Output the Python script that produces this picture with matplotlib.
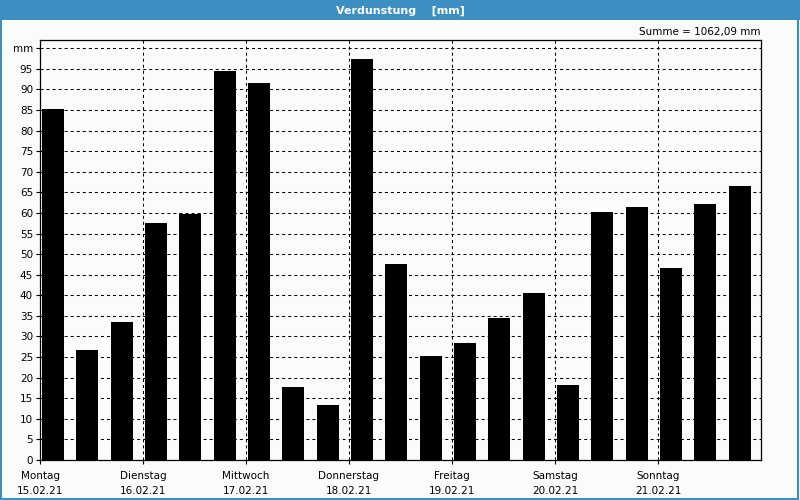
import matplotlib.pyplot as plt
from matplotlib.patches import Rectangle

# Daten (Verdunstung je 8-Stunden-Intervall, mm)
werte = [85.3, 26.6, 33.4,
         57.5, 59.8, 94.4,
         91.5, 17.8, 13.4,
         97.4, 47.6, 25.3,
         28.4, 34.5, 40.6,
         18.2, 60.2, 61.4,
         46.6, 62.1, 66.5]
tage = ["Montag", "Dienstag", "Mittwoch", "Donnerstag", "Freitag", "Samstag", "Sonntag"]
daten = ["15.02.21", "16.02.21", "17.02.21", "18.02.21", "19.02.21", "20.02.21", "21.02.21"]
summe_text = "Summe = 1062,09 mm"
titel = "Verdunstung    [mm]"

blau = "#3d8fc3"
hintergrund = "#fafcfa"

plt.rcParams["font.family"] = ["DejaVu Sans"]

fig = plt.figure(figsize=(8, 5), dpi=100, facecolor=hintergrund)
ax = fig.add_axes([0.05, 0.08, 0.90125, 0.84])
ax.set_facecolor(hintergrund)

# Balken
pos = [i + 0.06 for i in range(len(werte))]
ax.bar(pos, werte, width=0.64, align="edge", color="black", zorder=3)

ax.set_xlim(0, len(werte))
ax.set_ylim(0, 102)

# Achsen / Gitter
yt = list(range(0, 101, 5))
ax.set_yticks(yt)
ax.set_yticklabels([str(v) for v in yt[:-1]] + ["mm"])
xt = list(range(0, len(werte), 3))
ax.set_xticks(xt)
ax.set_xticklabels([t + "\n" + d for t, d in zip(tage, daten)], linespacing=1.6)

for v in yt[1:]:
    ax.axhline(v, color="black", lw=0.75, ls=(0, (2.9, 2.9)), zorder=1)
for x in xt[1:]:
    ax.axvline(x, color="black", lw=0.75, ls=(0, (2.9, 2.9)), zorder=1)

ax.tick_params(axis="both", labelsize=7.5, length=3, width=0.8, colors="black")
ax.tick_params(axis="x", pad=5)
ax.tick_params(axis="y", pad=2)
for s in ax.spines.values():
    s.set_linewidth(0.9)
    s.set_color("black")

# Titelleiste und Rahmen
fig.patches.append(Rectangle((0, 0.96), 1, 0.04, transform=fig.transFigure,
                             facecolor=blau, edgecolor="none", zorder=0))
fig.patches.append(Rectangle((0.001, 0.002), 0.997, 0.996, transform=fig.transFigure,
                             facecolor="none", edgecolor=blau, lw=1.5, zorder=5))
fig.text(0.5, 0.979, titel, color="white", fontsize=8, fontweight="bold",
         ha="center", va="center")
fig.text(0.951, 0.936, summe_text, fontsize=7.5, ha="right", va="center")

plt.savefig("out.png", dpi=100, facecolor=fig.get_facecolor())
